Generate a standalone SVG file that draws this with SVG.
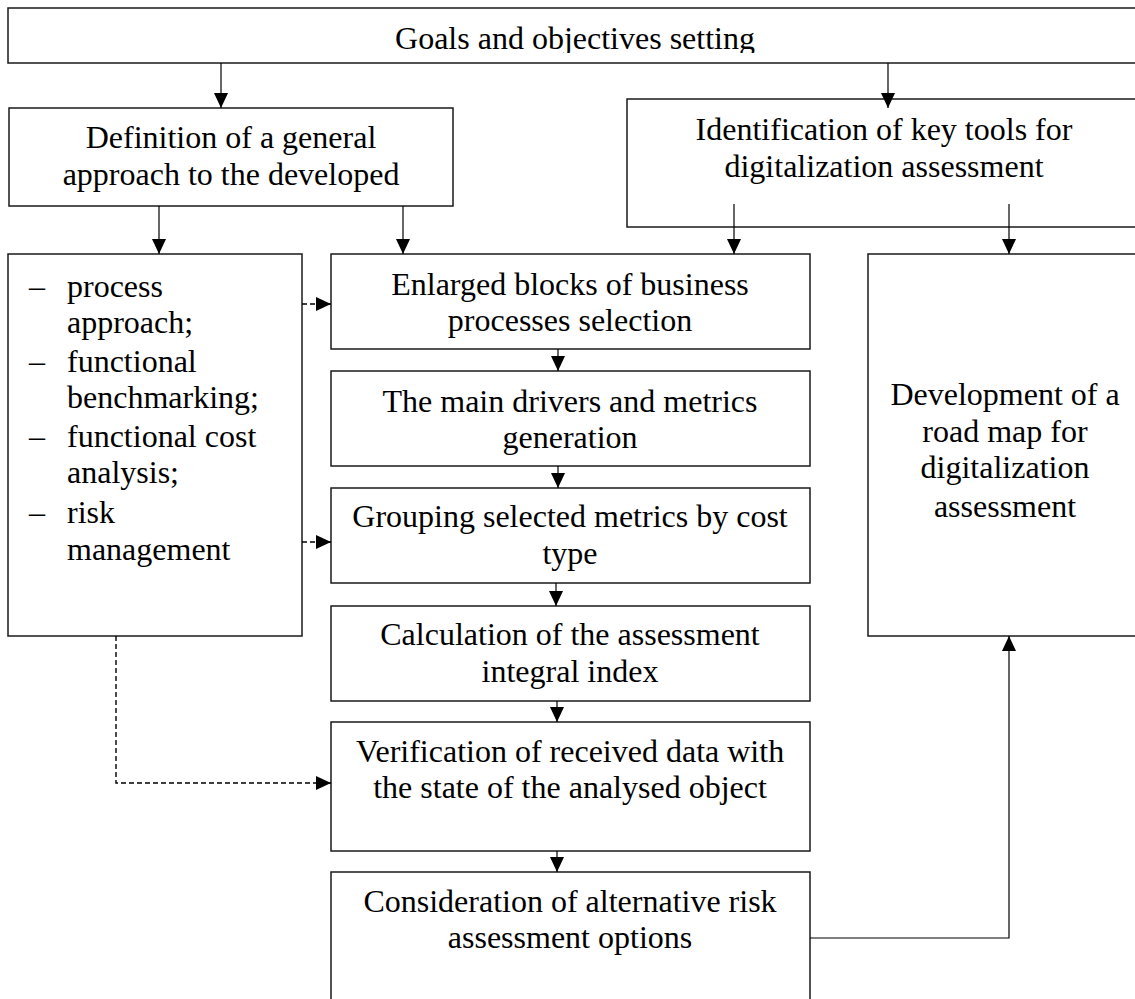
<svg xmlns="http://www.w3.org/2000/svg" width="1135" height="999" viewBox="0 0 1135 999">
<style>
.box{fill:#fff;stroke:#1a1a1a;stroke-width:1.5}
.t{font-family:"Liberation Serif","Times New Roman",serif;font-size:32px;fill:#000;text-anchor:middle}
.l{font-family:"Liberation Serif","Times New Roman",serif;font-size:32px;fill:#000}
.c{fill:none;stroke:#000;stroke-width:1.2}
.d{fill:none;stroke:#000;stroke-width:1.4;stroke-dasharray:5 3}
</style>
<defs>
<marker id="ah" viewBox="0 0 15 14" refX="15" refY="7" markerWidth="15" markerHeight="14" markerUnits="userSpaceOnUse" orient="auto">
<path d="M0,0 L15,7 L0,14 z" fill="#000"/>
</marker>
<clipPath id="goalsClip"><rect x="8" y="8" width="1140" height="45"/></clipPath>
</defs>
<rect width="1135" height="999" fill="#fff"/>
<g id="goals">
<rect class="box" x="8" y="8" width="1140" height="55"/>
<text class="t" x="575" y="49" clip-path="url(#goalsClip)">Goals and objectives setting</text>
</g>
<g id="definition">
<rect class="box" x="9" y="108" width="444" height="98"/>
<text class="t" x="231" y="148">Definition of a general</text>
<text class="t" x="231" y="185">approach to the developed</text>
</g>
<g id="identification">
<rect class="box" x="627" y="99" width="520" height="128"/>
<text class="t" x="884" y="140">Identification of key tools for</text>
<text class="t" x="884" y="177">digitalization assessment</text>
</g>
<g id="methods">
<rect class="box" x="8" y="254" width="294" height="382"/>
<text class="l" x="29" y="297">–</text>
<text class="l" x="67" y="297">process</text>
<text class="l" x="67" y="333">approach;</text>
<text class="l" x="29" y="372">–</text>
<text class="l" x="67" y="372">functional</text>
<text class="l" x="67" y="408">benchmarking;</text>
<text class="l" x="29" y="447">–</text>
<text class="l" x="67" y="447">functional cost</text>
<text class="l" x="67" y="483">analysis;</text>
<text class="l" x="29" y="523">–</text>
<text class="l" x="67" y="523">risk</text>
<text class="l" x="67" y="560">management</text>
</g>
<g id="enlarged">
<rect class="box" x="331" y="254" width="479" height="95"/>
<text class="t" x="570" y="295">Enlarged blocks of business</text>
<text class="t" x="570" y="331">processes selection</text>
</g>
<g id="drivers">
<rect class="box" x="331" y="371" width="479" height="95"/>
<text class="t" x="570" y="412">The main drivers and metrics</text>
<text class="t" x="570" y="448">generation</text>
</g>
<g id="grouping">
<rect class="box" x="331" y="488" width="479" height="95"/>
<text class="t" x="570" y="527">Grouping selected metrics by cost</text>
<text class="t" x="570" y="564">type</text>
</g>
<g id="calculation">
<rect class="box" x="331" y="606" width="479" height="95"/>
<text class="t" x="570" y="645">Calculation of the assessment</text>
<text class="t" x="570" y="682">integral index</text>
</g>
<g id="verification">
<rect class="box" x="331" y="722" width="479" height="129"/>
<text class="t" x="570" y="762">Verification of received data with</text>
<text class="t" x="570" y="798">the state of the analysed object</text>
</g>
<g id="consideration">
<rect class="box" x="331" y="872" width="479" height="140"/>
<text class="t" x="570" y="912">Consideration of alternative risk</text>
<text class="t" x="570" y="948">assessment options</text>
</g>
<g id="roadmap">
<rect class="box" x="868" y="254" width="280" height="382"/>
<text class="t" x="1005" y="405">Development of a</text>
<text class="t" x="1005" y="442">road map for</text>
<text class="t" x="1005" y="478">digitalization</text>
<text class="t" x="1005" y="517">assessment</text>
</g>
<g id="connectors">
<path class="c" d="M221,63 V108" marker-end="url(#ah)"/>
<path class="c" d="M888,63 V108" marker-end="url(#ah)"/>
<path class="c" d="M159,206 V254" marker-end="url(#ah)"/>
<path class="c" d="M403,206 V254" marker-end="url(#ah)"/>
<path class="c" d="M734,204 V254" marker-end="url(#ah)"/>
<path class="c" d="M1009,204 V254" marker-end="url(#ah)"/>
<path class="d" d="M302,304 H331" marker-end="url(#ah)"/>
<path class="d" d="M302,542 H331" marker-end="url(#ah)"/>
<path class="c" d="M558,349 V371" marker-end="url(#ah)"/>
<path class="c" d="M558,466 V488" marker-end="url(#ah)"/>
<path class="c" d="M556,583 V606" marker-end="url(#ah)"/>
<path class="c" d="M557,701 V722" marker-end="url(#ah)"/>
<path class="c" d="M557,851 V872" marker-end="url(#ah)"/>
<path class="c" d="M810,938 H1009 V636" marker-end="url(#ah)"/>
<path class="d" d="M116,636 V783 H331" marker-end="url(#ah)"/>
</g>
</svg>
